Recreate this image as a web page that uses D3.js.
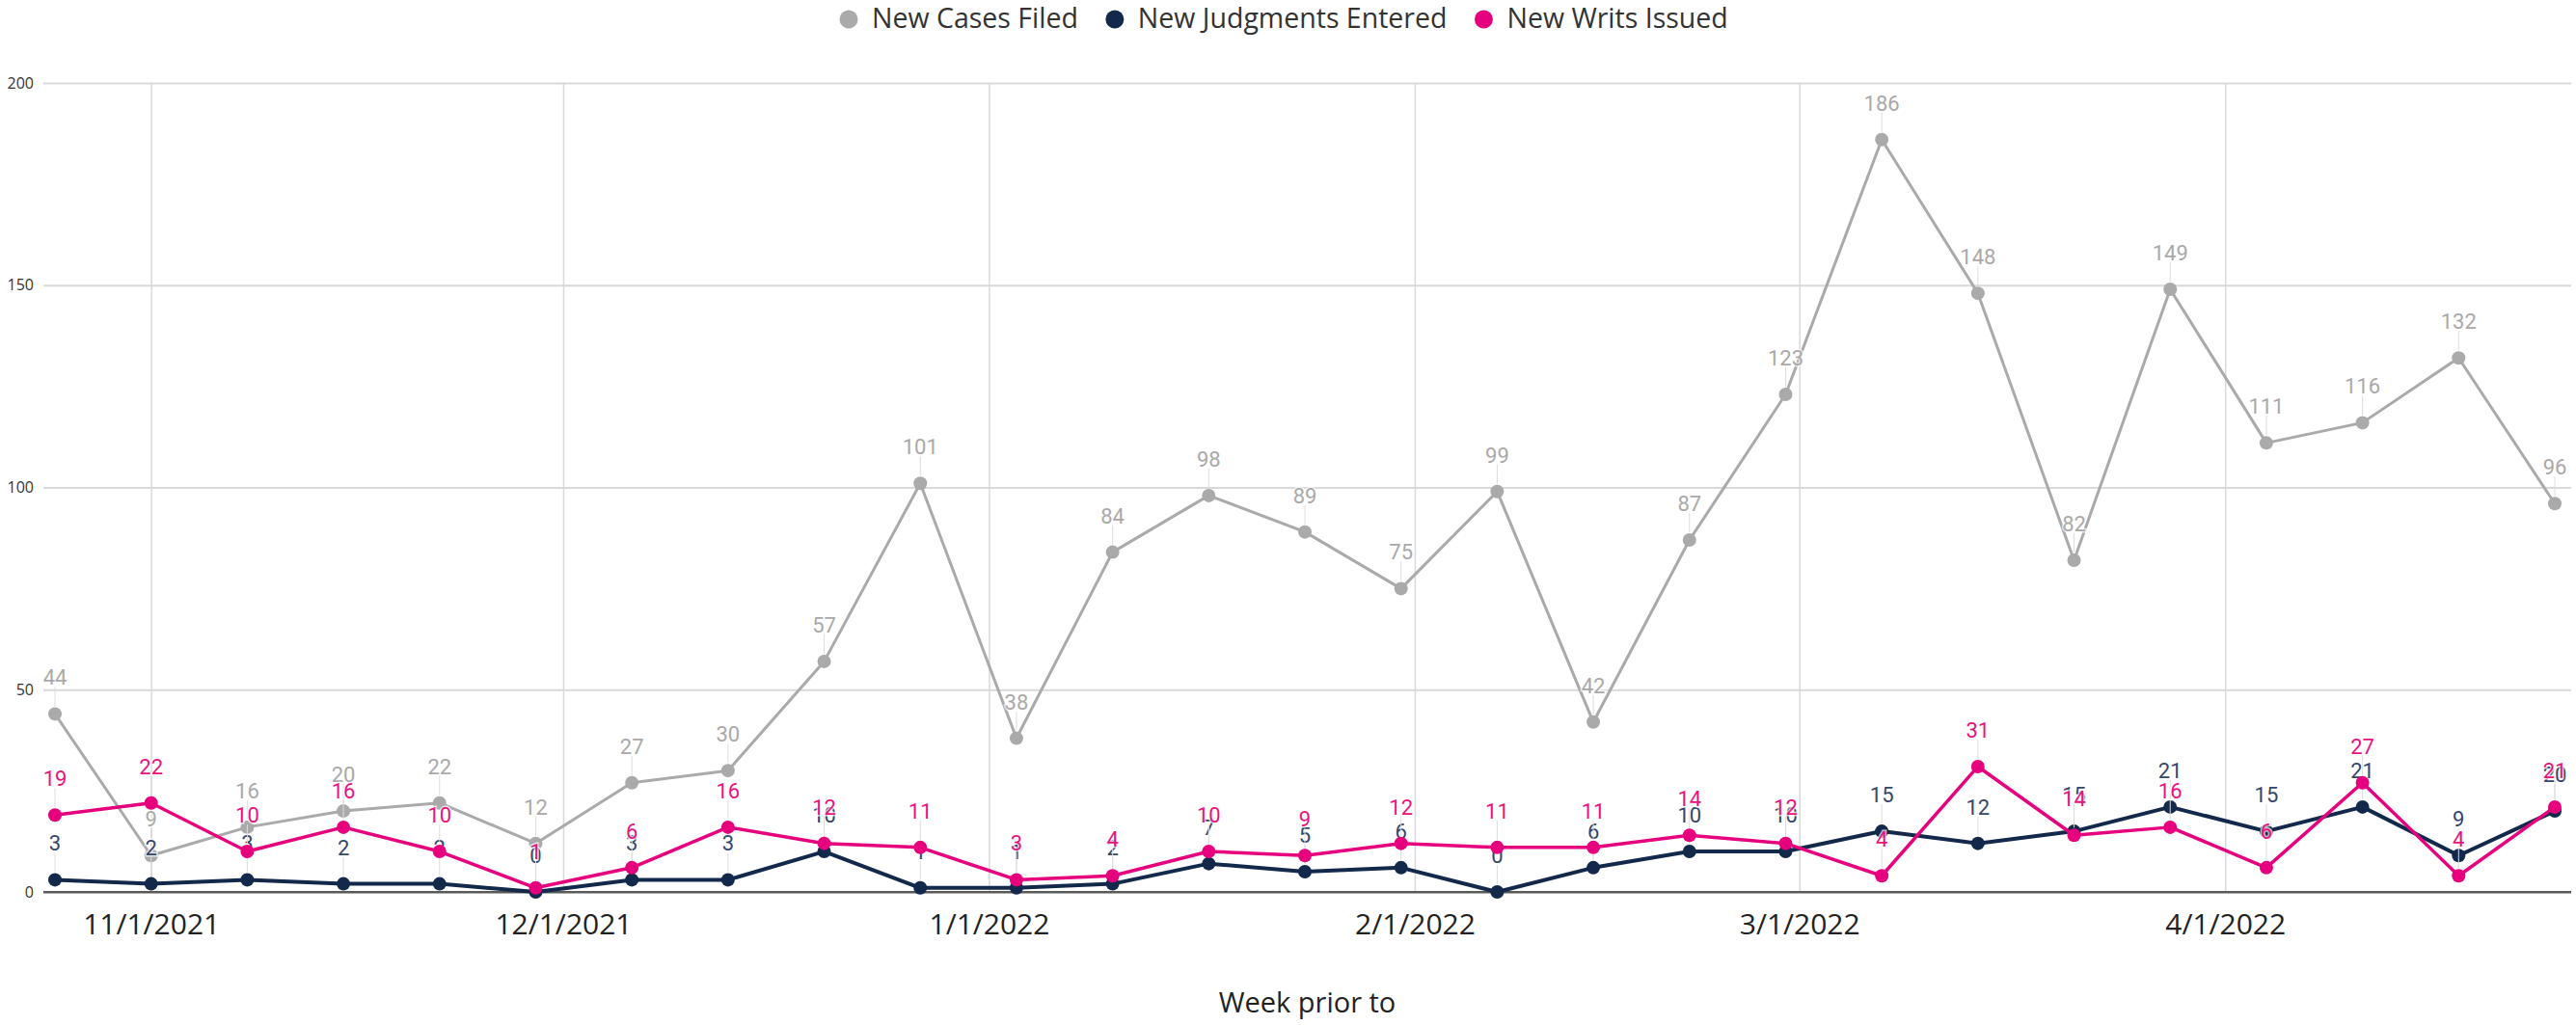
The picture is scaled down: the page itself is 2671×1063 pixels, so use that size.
<!DOCTYPE html>
<html>
<head>
<meta charset="utf-8">
<script src="https://cdn.jsdelivr.net/npm/d3@7"></script>
<style>
  html, body { margin: 0; padding: 0; background: #fff; }
  #chartContainer { width: 2671px; height: 1063px; }
</style>
</head>
<body>
<div id="chartContainer"></div>
<script>
// Weekly data, one entry per week (week starting dates)
const weeks = ["2021-10-25", "2021-11-01", "2021-11-08", "2021-11-15", "2021-11-22", "2021-11-29",
    "2021-12-06", "2021-12-13", "2021-12-20", "2021-12-27", "2022-01-03", "2022-01-10", "2022-01-17",
    "2022-01-24", "2022-01-31", "2022-02-07", "2022-02-14", "2022-02-21", "2022-02-28", "2022-03-07",
    "2022-03-14", "2022-03-21", "2022-03-28", "2022-04-04", "2022-04-11", "2022-04-18", "2022-04-25"];
const casesFiled = [44, 9, 16, 20, 22, 12, 27, 30, 57, 101, 38, 84, 98, 89, 75, 99, 42, 87, 123, 186, 148, 82, 149, 111, 116, 132, 96];
const judgmentsEntered = [3, 2, 3, 2, 2, 0, 3, 3, 10, 1, 1, 2, 7, 5, 6, 0, 6, 10, 10, 15, 12, 15, 21, 15, 21, 9, 20];
const writsIssued = [19, 22, 10, 16, 10, 1, 6, 16, 12, 11, 3, 4, 10, 9, 12, 11, 11, 14, 12, 4, 31, 14, 16, 6, 27, 4, 21];
const seriesNames = ["New Cases Filed", "New Judgments Entered", "New Writs Issued"];
const yTicks = [0, 50, 100, 150, 200];
const xTicks = ["2021-11-01", "2021-12-01", "2022-01-01", "2022-02-01", "2022-03-01", "2022-04-01"];
const axisTitle = "Week prior to";

function createChart(container) {
    // Specify the chart’s dimensions.
    const width = 2671;
    const height = 1063;
    const plotLeft = 45, plotRight = 2666;

    const parse = d3.utcParse("%Y-%m-%d");
    const dates = weeks.map(parse);

    const series = [
        { name: seriesNames[0], values: casesFiled, color: "#aaaaaa", label: "#a9a9a9", stroke: 3 },
        { name: seriesNames[1], values: judgmentsEntered, color: "#13294b", label: "#34466a", stroke: 4 },
        { name: seriesNames[2], values: writsIssued, color: "#e6007e", label: "#e8137f", stroke: 3.5 }
    ];

    // Create the scales.
    const x = d3.scaleUtc()
        .domain(d3.extent(dates))
        .range([57, 2649]);
    const y = d3.scaleLinear()
        .domain([0, 200])
        .range([925, 86]);

    // Create the SVG container (attached right away so text can be measured).
    const svg = d3.select(container).append("svg")
        .attr("viewBox", `0 0 ${width} ${height}`)
        .attr("width", width)
        .attr("height", height)
        .attr("style", "display:block; background:#fff;");

    // Horizontal grid lines and y labels.
    const yAxis = svg.append("g")
        .attr("transform", `translate(${plotLeft},0)`)
        .call(d3.axisLeft(y).tickValues(yTicks).tickSize(-(plotRight - plotLeft)).tickPadding(10));
    yAxis.select(".domain").remove();
    yAxis.selectAll(".tick line")
        .attr("stroke", d => d === 0 ? "#5a5a5a" : "#d9d9d9")
        .attr("stroke-width", 2);
    yAxis.selectAll(".tick text")
        .attr("fill", "#333")
        .style("font", "16px 'Open Sans', sans-serif");

    // Vertical grid lines at the month starts and x labels.
    const xAxis = svg.append("g")
        .attr("transform", `translate(0,${y(0)})`)
        .call(d3.axisBottom(x)
            .tickValues(xTicks.map(parse))
            .tickFormat(d3.utcFormat("%-m/%-d/%Y"))
            .tickSize(-(y(0) - y(200)))
            .tickPadding(23));
    xAxis.select(".domain").remove();
    xAxis.selectAll(".tick line")
        .attr("stroke", "#d9d9d9")
        .attr("stroke-width", 1.5);
    xAxis.selectAll(".tick text")
        .attr("fill", "#222")
        .style("font", "30px 'Open Sans', sans-serif");

    // Redraw the zero line above the vertical grid.
    svg.append("line")
        .attr("x1", plotLeft).attr("x2", plotRight)
        .attr("y1", y(0)).attr("y2", y(0))
        .attr("stroke", "#5a5a5a")
        .attr("stroke-width", 2);

    // Axis title.
    svg.append("text")
        .attr("x", (plotLeft + plotRight) / 2)
        .attr("y", 1050)
        .attr("text-anchor", "middle")
        .attr("fill", "#222")
        .style("font", "29px 'Open Sans', sans-serif")
        .text(axisTitle);

    // Append the lines, points and labels, one series after the other.
    const line = d3.line()
        .x((d, i) => x(dates[i]))
        .y(d => y(d));

    for (const s of series) {
        const g = svg.append("g");

        g.append("path")
            .attr("d", line(s.values))
            .attr("fill", "none")
            .attr("stroke", s.color)
            .attr("stroke-width", s.stroke)
            .attr("stroke-linejoin", "round");

        g.selectAll("circle")
            .data(s.values)
            .join("circle")
            .attr("cx", (d, i) => x(dates[i]))
            .attr("cy", d => y(d))
            .attr("r", 7)
            .attr("fill", s.color);

        // leader lines from point to label
        g.selectAll("line.leader")
            .data(s.values)
            .join("line")
            .attr("class", "leader")
            .attr("x1", (d, i) => x(dates[i]))
            .attr("x2", (d, i) => x(dates[i]))
            .attr("y1", d => y(d) - 8)
            .attr("y2", d => y(d) - 28)
            .attr("stroke", "#dcdcdc")
            .attr("stroke-width", 1);

        g.selectAll("text")
            .data(s.values)
            .join("text")
            .attr("x", (d, i) => x(dates[i]))
            .attr("y", d => y(d) - 30)
            .attr("text-anchor", "middle")
            .attr("fill", s.label)
            .attr("stroke", "#fff")
            .attr("stroke-width", 3)
            .attr("stroke-opacity", 0.7)
            .attr("paint-order", "stroke")
            .style("font", "22px Roboto, sans-serif")
            .text(d => d);
    }

    // Legend above the plot.
    const legend = svg.append("g")
        .style("font", "28.5px 'Open Sans', sans-serif");
    const item = legend.selectAll("g")
        .data(series)
        .join("g");
    item.append("circle")
        .attr("r", 9.5)
        .attr("cy", 20)
        .attr("fill", d => d.color);
    item.append("text")
        .attr("x", 24)
        .attr("y", 29)
        .attr("fill", "#333")
        .text(d => d.name);

    let offset = 880;
    const positions = [];
    item.each(function () {
        const w = d3.select(this).select("text").node().getComputedTextLength();
        positions.push(offset);
        offset += 24 + w + 38;
    });
    item.attr("transform", (d, i) => `translate(${positions[i]},0)`);

    return svg.node();
}

document.addEventListener('DOMContentLoaded', function () {
    createChart(document.getElementById('chartContainer'));
});
</script>
</body>
</html>
